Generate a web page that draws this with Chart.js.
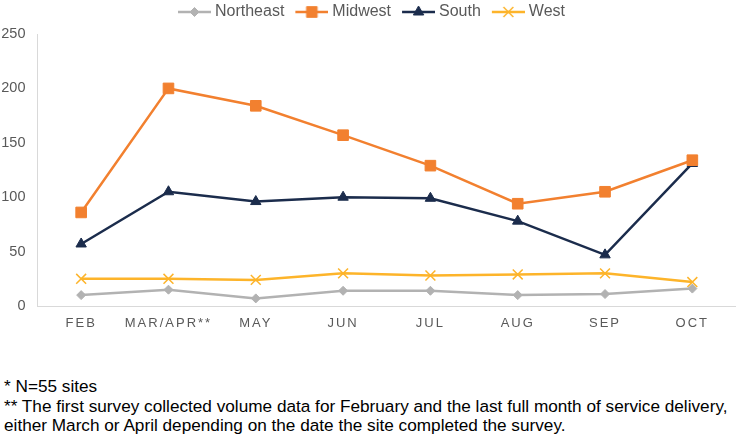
<!DOCTYPE html>
<html>
<head>
<meta charset="utf-8">
<script src="https://cdn.jsdelivr.net/npm/chart.js@4/dist/chart.umd.min.js"></script>
<style>
  html, body { margin: 0; padding: 0; background: #fff; }
  #wrap { position: relative; width: 736px; height: 444px; overflow: hidden; }
  #c { position: absolute; left: 0; top: 0; }
  #note { position: absolute; left: 4px; top: 377px; font-family: "Liberation Sans", Arial, sans-serif; font-size: 17.2px; line-height: 19.5px; color: #000; white-space: nowrap; }
</style>
</head>
<body>
<div id="wrap">
  <canvas id="c" width="736" height="340"></canvas>
  <div id="note">* N=55 sites<br>** The first survey collected volume data for February and the last full month of service delivery,<br>either March or April depending on the date the site completed the survey.</div>
</div>
<script>
const categories = ["FEB", "MAR/APR**", "MAY", "JUN", "JUL", "AUG", "SEP", "OCT"];
const northeast = [10, 15, 7, 14, 14, 10, 11, 16];
const midwest   = [86, 200, 184, 157, 129, 94, 105, 134];
const south     = [57, 105, 96, 100, 99, 78, 47, 131];
const west      = [25, 25, 24, 30, 28, 29, 30, 22];
const yTicks    = [0, 50, 100, 150, 200, 250];

const seriesDefs = [
  { label: "Northeast", data: northeast, color: "#B2B2B2", style: "rectRot", radius: 4.5, bw: 1 },
  { label: "Midwest",   data: midwest,   color: "#F2802F", style: "rect",    radius: 7.5, bw: 1 },
  { label: "South",     data: south,     color: "#1B2C4C", style: "triangle",radius: 6,   bw: 1 },
  { label: "West",      data: west,      color: "#FDB42A", style: "crossRot",radius: 7,   bw: 1.5 }
];

function legendIcon(d) {
  const W = 44, H = 16, a = 11;
  const c = document.createElement('canvas');
  c.width = W; c.height = H;
  const g = c.getContext('2d');
  g.strokeStyle = d.color; g.fillStyle = d.color; g.lineWidth = 2.5;
  g.beginPath(); g.moveTo(a, H/2); g.lineTo(a + 33, H/2); g.stroke();
  g.lineWidth = d.bw;
  Chart.helpers.drawPoint(g, { pointStyle: d.style, radius: d.radius, rotation: 0, borderWidth: d.bw }, a + 16.5, H/2);
  return c;
}

const datasets = seriesDefs.map(d => ({
  label: d.label,
  data: d.data,
  borderColor: d.color,
  backgroundColor: d.color,
  borderWidth: 2.5,
  pointStyle: d.style,
  pointRadius: d.radius,
  pointHoverRadius: d.radius,
  pointBorderWidth: d.bw,
  pointBackgroundColor: d.color,
  pointBorderColor: d.color,
  tension: 0,
  clip: false
}));

const icons = seriesDefs.map(legendIcon);

const tweakPlugin = {
  id: 'tweaks',
  afterInit(chart) {
    const lg = chart.legend;
    if (lg && !lg._fitWrapped) {
      const f = lg.fit;
      lg.fit = function () { f.call(this); this.height += 4; };
      lg._fitWrapped = true;
    }
  },
  beforeDraw(chart) {
    const sx = chart.scales.x;
    if (sx && !sx._lsWrapped) {
      const orig = sx.drawLabels;
      sx.drawLabels = function (area) {
        const ctx = this.ctx;
        ctx.save();
        try { ctx.letterSpacing = '2px'; } catch (e) {}
        orig.call(this, area);
        ctx.restore();
      };
      sx._lsWrapped = true;
    }
  }
};

new Chart(document.getElementById('c'), {
  type: 'line',
  data: { labels: categories, datasets },
  plugins: [tweakPlugin],
  options: {
    responsive: false,
    animation: false,
    devicePixelRatio: 1,
    layout: { autoPadding: false, padding: { top: 0, right: 0, left: 0, bottom: 0 } },
    plugins: {
      tooltip: { enabled: false },
      legend: {
        position: 'top',
        labels: {
          usePointStyle: true,
          pointStyleWidth: 36,
          padding: 4,
          color: '#595959',
          font: { family: '"Liberation Sans", Arial, sans-serif', size: 16 },
          generateLabels(chart) {
            return chart.data.datasets.map((ds, i) => ({
              text: ds.label,
              fillStyle: ds.backgroundColor,
              strokeStyle: ds.borderColor,
              lineWidth: 0,
              pointStyle: icons[i],
              hidden: false,
              datasetIndex: i,
              fontColor: '#595959'
            }));
          }
        }
      }
    },
    scales: {
      x: {
        type: 'category',
        offset: true,
        grid: { display: false, drawTicks: false },
        border: { display: true, color: '#D9D9D9', width: 1 },
        ticks: {
          color: '#595959',
          padding: 10,
          maxRotation: 0,
          autoSkip: false,
          font: { family: '"Liberation Sans", Arial, sans-serif', size: 13 }
        },
        afterFit(scale) { scale.height = 34; scale.paddingRight = 0; scale.paddingLeft = 0; }
      },
      y: {
        min: 0,
        max: 250,
        afterBuildTicks(scale) { scale.ticks = yTicks.map(v => ({ value: v })); },
        grid: { display: false, drawTicks: false },
        border: { display: true, color: '#D9D9D9', width: 1 },
        ticks: {
          color: '#595959',
          padding: 12,
          font: { family: '"Liberation Sans", Arial, sans-serif', size: 14.5 }
        },
        afterFit(scale) { scale.width = 37.5; }
      }
    }
  }
});
</script>
</body>
</html>
